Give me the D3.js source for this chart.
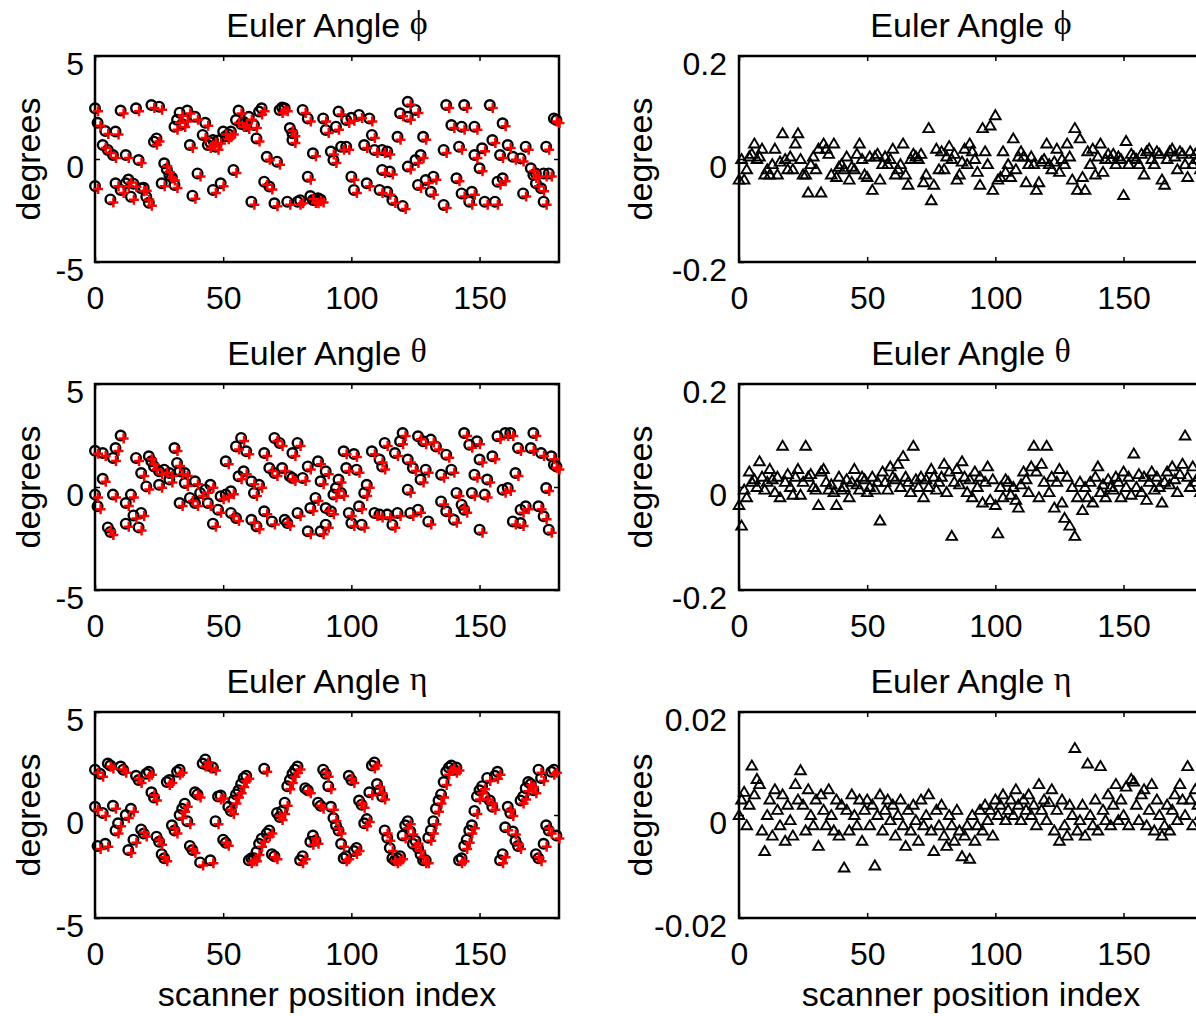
<!DOCTYPE html>
<html>
<head>
<meta charset="utf-8">
<script src="https://cdnjs.cloudflare.com/ajax/libs/d3/7.8.5/d3.min.js"></script>
<style>
  body { margin: 0; background: #fff; }
  svg text { font-family: "Liberation Sans", Arial, sans-serif; fill: #000; }
</style>
</head>
<body>
<div id="chart"></div>
<script>
// x axis ticks (scanner position index) shared by all panels
var xTicks = [0, 50, 100, 150]

// left column: true angle (black o) and estimate (red +), index / degrees pairs
var phiIdx = [0,0,1,3,4,5,6,7,8,8, 10,10,12,12,13,14,15,16,17,18, 19,20,21,22,23,24,25,26,27,28,
  29,30,31,31,32,33,34,35,36,37, 38,39,40,42,43,44,45,46,46,47, 48,49,50,51,52,53,54,55,56,57,
  58,59,60,61,62,63,64,65,66,67, 68,70,71,72,73,74,75,76,77,77, 79,80,81,83,83,84,85,85,86,87,
  88,89,90,92,93,94,95,96,98,98, 100,100,101,103,105,106,107,108,109,111, 112,112,114,114,115,116,118,119,120,122,
  122,122,125,125,126,127,128,129,131,132, 136,136,137,139,141,142,143,143,144,146, 147,148,148,150,151,152,154,155,156,157,
  158,159,159,161,163,166,167,168,170,171, 172,172,174,175,175,176,177,179,180]
var phiDeg = [2.46,-1.31,1.76,0.68,1.36,0.44,-1.96,0.19,1.33,-1.18, 2.35,-1.50,0.19,-1.18,-1.00,-1.83,-1.20,2.46,-0.05,-1.42, -1.40,-1.83,-2.12,2.62,0.84,1.00,2.54,-1.18,-0.21,-0.50,
  -0.78,-0.90,-1.26,1.57,1.90,2.25,1.70,1.97,2.35,0.68, -1.78,2.05,-0.70,1.17,1.76,0.68,0.80,0.92,-1.50,0.60, 0.90,-1.18,1.33,1.10,1.20,1.33,-0.53,1.89,2.35,1.70,
  1.80,1.60,2.05,-2.07,1.65,1.00,2.30,2.46,-1.10,0.11, -1.34,-2.15,-0.13,2.38,2.50,2.46,-2.07,1.50,1.25,0.92, -2.07,-2.00,2.38,1.97,-0.86,-1.80,0.28,-1.99,-2.00,-1.91,
  -1.96,1.97,1.41,0.36,-0.05,1.57,2.30,0.60,1.89,0.60, 2.00,-0.86,-1.50,2.14,0.68,-1.18,1.97,1.17,0.44,-1.50, 0.44,-0.53,0.36,-1.59,-0.61,-1.99,1.08,2.22,-2.28,2.78,
  2.05,-0.37,2.38,-0.05,-1.26,0.19,1.08,-1.02,-1.59,-0.86, 0.44,-2.23,2.62,1.65,-0.94,0.60,1.57,-1.67,2.62,-2.07, -1.59,1.57,0.19,-0.45,0.52,-2.07,2.62,0.92,-2.07,-1.10,
  0.19,1.73,-0.94,0.68,0.11,0.03,-1.67,0.60,-0.45,-0.78, -1.18,-0.70,-1.42,-2.07,-0.70,0.60,-0.70,1.97,1.89]

var thetaIdx = [0,0,1,3,3,5,6,7,7,8, 10,12,12,14,15,16,17,18,18,20, 21,22,23,25,25,27,29,29,31,32,
  33,33,35,35,37,39,39,41,43,44, 45,46,48,49,51,51,53,53,55,55, 56,57,58,59,61,61,62,63,64,66,
  66,68,69,70,70,72,73,74,75,76, 77,77,79,79,81,83,83,84,86,87, 88,88,90,90,90,92,93,94,95,96,
  97,98,99,100,101,102,103,104,105,106, 108,109,111,111,112,113,114,116,117,118, 119,120,122,122,123,124,126,126,127,128,
  129,130,131,133,135,135,137,137,139,140, 141,143,144,144,146,147,148,149,150,150, 152,153,155,157,159,160,161,162,163,164,
  165,166,166,168,170,171,173,174,175,176, 177,178,179,180]
var thetaDeg = [1.76,-0.37,-0.94,0.40,1.65,-1.96,-2.18,-0.37,1.41,1.89, 2.50,-0.78,-1.78,-0.37,-1.38,1.41,-1.96,-1.26,0.68,0.03, 1.49,1.25,1.00,0.11,0.76,0.84,0.68,0.36,1.89,1.17,
  0.76,-0.78,0.19,0.68,-0.53,0.28,-0.78,-0.29,-0.13,-0.78, 0.11,-1.78,-1.10,-0.45,-0.37,1.25,-0.21,-1.26,1.97,-1.50, 0.52,2.38,0.76,1.73,-1.59,0.28,-0.29,-1.91,0.11,-1.18,
  1.65,0.92,-1.67,0.68,2.38,2.14,0.92,-1.59,-1.75,0.52, 0.44,1.65,2.14,-1.26,0.44,1.00,-2.15,-1.02,-0.53,1.25, -2.15,0.28,0.76,-1.83,-1.02,-1.18,-0.37,-0.05,0.36,-0.29,
  1.73,0.92,-1.26,-1.75,1.60,0.84,-0.94,-1.83,-0.29,0.11, 1.73,-1.26,-1.34,1.33,1.00,2.14,-1.34,-1.83,1.65,-1.26, 2.22,2.62,1.33,-0.13,-1.26,0.92,-1.10,2.46,0.36,2.22,
  0.84,-1.67,2.30,1.97,0.60,-0.70,-1.18,1.57,0.84,-1.59, -0.29,-0.86,-1.10,2.62,2.05,-0.29,0.60,2.22,1.33,-2.07, -0.37,0.36,1.49,2.46,-0.13,2.62,-0.05,2.62,-1.67,0.68,
  1.89,-1.10,-1.75,-0.94,1.89,2.62,-0.94,1.65,-1.42,-0.05, -2.07,1.49,1.08,1.00]

var etaIdx = [0,0,1,5,7,8,10,12,13,17, 18,21,23,24,27,29,31,33,33,35, 38,40,41,43,46,47,49,51,53,54,
  56,59,60,62,65,66,68,70,73,76, 79,81,83,86,88,90,93,95,97,99, 101,103,109,111,113,116,119,121,125,129,
  131,134,138,141,142,146,150,154,157,158, 162,164,166,171,173,173,177,179,180,
  2,3,4,6,9,11,14,15,16,19, 20,22,25,26,28,30,32,34,36,37, 39,42,44,45,48,50,52,55,57,58,
  61,63,64,67,69,71,72,74,75,77, 78,80,82,84,85,87,89,91,92,94, 96,98,100,102,104,105,106,107,108,110,
  112,114,115,117,118,120,122,123,124,126, 127,128,130,132,133,135,136,137,139,140, 143,144,145,147,148,149,151,152,153,155,
  156,159,160,161,163,165,167,168,169,170, 172,174,175,176,178]
var etaDeg = [2.2,0.4,-1.5,2.5,0.45,-0.75,2.35,0.0,-1.7,1.7, -0.7,2.1,0.85,-1.05,-2.1,1.7,-0.75,2.2,0.0,0.55, -1.7,1.0,-2.3,2.7,2.3,-0.3,0.95,-1.35,0.2,0.7,
  1.2,1.9,-2.2,-2.1,-1.15,2.25,-0.75,-2.0,0.2,1.7, 2.35,-2.0,1.2,-1.25,0.45,2.0,-0.15,-0.75,-2.1,1.9, -1.75,0.7,2.55,1.2,-0.75,-2.1,-2.0,-0.5,-1.25,-2.2,
  -0.75,0.7,2.3,2.3,-2.2,-0.75,1.2,0.7,2.1,-2.2, 0.1,-1.25,0.7,1.2,-2.1,2.2,-0.75,2.2,-1.0,
  2.0,0.1,-1.4,2.4,-0.4,2.2,0.3,-1.2,1.9,-0.9, 2.0,1.1,-1.3,-1.9,1.6,-0.5,2.1,0.3,-0.3,-1.5, 1.1,2.5,2.4,-2.2,0.9,-1.2,0.4,1.0,1.5,1.8,
  -2.1,-1.8,-1.4,-0.9,-1.9,0.1,-0.1,0.6,1.4,2.0, 2.2,-2.2,1.3,-1.3,-1.0,0.6,2.2,1.4,0.4,-0.5, -1.4,-2.0,1.7,-1.6,0.5,-0.4,-0.2,1.1,2.4,1.5,
  0.9,-1.1,-1.6,-2.2,-2.1,-1.0,-0.3,-0.8,-1.4,-1.6, -1.9,-2.2,-1.1,-0.3,0.3,1.0,1.6,2.1,2.4,2.2, -2.1,-1.5,-1.2,-0.5,0.2,0.9,1.4,0.9,1.8,0.4,
  1.9,-1.9,-0.6,0.4,-0.8,-1.5,0.9,1.3,1.6,1.5, -1.9,1.8,-1.4,-0.5,2.1]

// right column: estimation error (degrees), one value per scanner position 0..180
var phiErr = [-0.04,0.0,-0.04,-0.02,0.005,0.01,0.03,0.0,0.005,0.02,
  -0.03,-0.02,-0.03,-0.01,0.02,-0.03,-0.005,0.05,0.0,-0.02,
  0.005,-0.02,0.03,0.05,0.0,-0.03,-0.03,-0.065,-0.01,0.005,
  -0.02,0.02,-0.065,0.03,0.02,0.01,-0.03,0.03,-0.035,-0.015,
  -0.01,-0.02,0.005,-0.04,-0.015,-0.02,0.01,0.03,0.0,-0.03,
  -0.035,0.005,-0.06,0.005,0.01,-0.04,-0.01,0.005,-0.01,0.0,
  0.02,-0.03,-0.02,-0.01,0.03,-0.03,-0.05,0.0,0.01,0.005,
  0.0,0.01,-0.045,-0.03,0.06,-0.08,-0.05,0.02,-0.02,0.015,
  -0.02,0.005,0.025,0.0,0.01,-0.04,-0.03,-0.005,0.02,-0.01,
  0.03,0.015,0.0,-0.025,-0.05,0.06,0.015,-0.01,0.065,-0.06,
  0.085,-0.04,-0.035,0.015,-0.025,-0.01,-0.035,0.04,-0.02,0.005,
  0.015,0.005,-0.045,-0.01,0.005,-0.01,-0.06,-0.045,-0.005,0.0,
  0.03,-0.01,-0.02,-0.005,0.02,-0.025,0.0,-0.01,0.03,0.005,
  -0.04,0.06,-0.06,0.04,-0.035,-0.06,0.015,-0.01,0.02,-0.03,
  0.005,0.03,-0.025,0.0,0.01,0.0,0.01,-0.01,0.005,0.0,
  -0.07,0.035,-0.01,0.01,0.005,0.0,-0.01,0.01,-0.03,0.015,
  0.02,0.0,-0.01,0.015,0.01,-0.04,-0.05,0.0,0.015,0.02,
  0.005,-0.02,0.015,0.01,-0.01,-0.035,0.015,-0.01,0.01,0.0,-0.02]

var thetaErr = [-0.035,-0.075,-0.005,-0.02,0.03,0.01,0.015,0.0,0.05,0.02,
  -0.005,0.01,0.035,0.015,-0.01,0.02,-0.02,0.08,0.01,0.025,
  0.0,-0.015,0.02,0.035,-0.015,0.01,0.08,0.02,0.025,0.0,
  -0.005,-0.035,0.03,0.035,0.01,-0.005,0.005,-0.01,-0.035,0.02,
  -0.005,0.0,0.015,-0.02,0.01,0.035,0.005,-0.005,0.02,0.015,
  -0.01,0.0,0.02,-0.005,0.01,-0.065,0.03,0.01,-0.005,0.04,
  0.02,0.015,0.045,0.0,0.06,0.02,0.01,-0.01,0.08,0.015,
  0.0,0.02,-0.02,0.015,0.0,0.035,0.02,-0.005,0.01,0.02,
  0.045,-0.01,0.03,-0.095,0.01,0.035,0.005,0.05,0.02,-0.01,
  0.015,-0.02,0.03,0.0,0.02,-0.03,0.01,0.04,-0.025,0.015,
  -0.035,-0.09,0.0,-0.02,0.015,0.01,-0.015,0.0,-0.025,-0.04,
  0.005,0.03,0.015,-0.01,0.04,0.08,0.03,-0.02,0.045,0.01,
  0.08,-0.01,0.02,-0.04,0.01,0.035,-0.03,-0.06,0.02,-0.075,
  0.0,-0.095,-0.02,0.01,-0.045,0.0,-0.02,0.01,-0.03,0.02,
  0.04,-0.01,0.005,-0.02,0.015,0.0,-0.005,0.02,0.01,-0.02,
  0.03,0.0,0.02,-0.015,0.065,0.0,0.025,-0.01,0.02,-0.025,
  0.01,0.03,-0.005,0.02,0.0,-0.03,0.01,0.03,0.005,0.04,
  0.015,-0.01,0.025,0.045,0.1,0.02,0.0,0.04,0.01,0.02,-0.01]

var etaErr = [0.0,0.003,0.0045,-0.002,0.002,0.0096,0.004,0.007,0.006,-0.003,
  -0.007,0.0,0.003,-0.004,0.005,0.001,-0.002,0.004,-0.005,0.002,
  -0.001,-0.004,0.006,0.003,0.0087,0.002,-0.003,0.005,0.0,-0.002,
  0.003,-0.006,0.004,0.001,-0.002,0.005,0.0,-0.003,0.003,-0.004,
  0.002,-0.0102,0.001,-0.003,0.004,0.0,-0.002,0.003,-0.005,0.001,
  0.003,-0.002,0.002,-0.0098,0.0,0.004,-0.003,0.001,0.003,-0.001,
  0.002,-0.004,0.0,0.003,-0.002,-0.006,0.001,-0.003,0.002,-0.001,
  -0.005,0.003,-0.002,0.0,0.004,-0.003,-0.007,0.001,-0.002,0.002,
  -0.004,-0.006,0.0,-0.002,-0.005,0.001,-0.003,-0.008,-0.004,-0.002,
  -0.0085,0.0,-0.005,-0.002,0.001,-0.003,0.002,-0.001,0.001,-0.004,
  0.003,0.0,0.002,0.004,-0.001,0.001,0.003,0.0,0.005,0.002,
  -0.001,0.003,0.001,0.004,0.0,0.002,-0.002,0.006,0.001,0.003,
  -0.001,0.0025,0.005,-0.003,0.001,-0.005,0.003,-0.002,-0.004,0.002,
  0.0,0.013,-0.003,-0.001,0.002,-0.004,0.01,0.0,-0.002,0.003,
  -0.003,0.0095,0.001,-0.001,0.004,-0.002,0.002,0.006,-0.001,0.003,
  0.0,0.0055,-0.002,0.007,0.0065,0.002,-0.001,0.004,0.005,-0.002,
  0.001,0.006,-0.003,0.003,0.0,-0.004,-0.002,0.002,-0.003,0.001,
  0.004,-0.001,0.006,0.003,0.0,0.0095,0.003,-0.002,0.005,0.002,0.0]

// layout
var widthSvg = 1196
var heightSvg = 1016
var colLeft = [95, 739]
var rowTop = [56, 384, 712]
var plotW = 464
var plotH = 206
var tickFont = 32
var labelFont = 34

var svg = d3.select("#chart")
  .append("svg")
  .attr("width", widthSvg)
  .attr("height", heightSvg)

svg.append("rect").attr("width", widthSvg).attr("height", heightSvg).attr("fill", "#fff")

var errIdx = d3.range(phiErr.length)

var panels = [
  {col: 0, row: 0, greek: "\u03D5", idx: phiIdx, val: phiDeg, kind: "angle", yDomain: [-5, 5], yTicks: [-5, 0, 5]},
  {col: 0, row: 1, greek: "\u03B8", idx: thetaIdx, val: thetaDeg, kind: "angle", yDomain: [-5, 5], yTicks: [-5, 0, 5]},
  {col: 0, row: 2, greek: "\u03B7", idx: etaIdx, val: etaDeg, kind: "angle", yDomain: [-5, 5], yTicks: [-5, 0, 5]},
  {col: 1, row: 0, greek: "\u03D5", idx: errIdx, val: phiErr, kind: "err", yDomain: [-0.2, 0.2], yTicks: [-0.2, 0, 0.2]},
  {col: 1, row: 1, greek: "\u03B8", idx: errIdx, val: thetaErr, kind: "err", yDomain: [-0.2, 0.2], yTicks: [-0.2, 0, 0.2]},
  {col: 1, row: 2, greek: "\u03B7", idx: errIdx, val: etaErr, kind: "err", yDomain: [-0.02, 0.02], yTicks: [-0.02, 0, 0.02]}
]

panels.forEach(function(p) {
  var g = svg.append("g")
    .attr("transform", "translate(" + colLeft[p.col] + "," + rowTop[p.row] + ")")

  var x = d3.scaleLinear().domain([0, 181]).range([0, plotW])
  var y = d3.scaleLinear().domain(p.yDomain).range([plotH, 0])

  // inward ticks on all four sides, labels only bottom and left
  var bottom = g.append("g").attr("transform", "translate(0," + plotH + ")")
    .call(d3.axisBottom(x).tickValues(xTicks).tickSizeInner(-5).tickSizeOuter(0).tickPadding(24).tickFormat(String))
  var top = g.append("g")
    .call(d3.axisTop(x).tickValues(xTicks).tickSizeInner(-5).tickSizeOuter(0).tickFormat(""))
  var left = g.append("g")
    .call(d3.axisLeft(y).tickValues(p.yTicks).tickSizeInner(-5).tickSizeOuter(0).tickPadding(p.col ? 12 : 11).tickFormat(String))
  var right = g.append("g").attr("transform", "translate(" + plotW + ",0)")
    .call(d3.axisRight(y).tickValues(p.yTicks).tickSizeInner(-5).tickSizeOuter(0).tickFormat(""))

  ;[bottom, top, left, right].forEach(function(a) {
    a.select(".domain").remove()
    a.selectAll("line").attr("stroke", "#000").attr("stroke-width", 1.5)
    a.selectAll("text").attr("font-size", tickFont).attr("font-family", null).attr("fill", "#000")
  })
  left.selectAll("text").attr("dy", "18px")

  g.append("rect")
    .attr("width", plotW).attr("height", plotH)
    .attr("fill", "none").attr("stroke", "#000").attr("stroke-width", 2.5)

  var pts = d3.range(p.idx.length)

  if (p.kind === "angle") {
    g.selectAll("circle.truth")
      .data(pts).enter().append("circle")
      .attr("class", "truth")
      .attr("cx", function(i) { return x(p.idx[i]) })
      .attr("cy", function(i) { return y(p.val[i]) })
      .attr("r", 4.8)
      .attr("fill", "none").attr("stroke", "#000").attr("stroke-width", 2.4)

    // estimate sits on top of the true value at this scale; marker drawn slightly offset like the original
    g.selectAll("path.est")
      .data(pts).enter().append("path")
      .attr("class", "est")
      .attr("d", "M-5,0H5M0,-5V5")
      .attr("transform", function(i) { return "translate(" + (x(p.idx[i]) + 3) + "," + (y(p.val[i]) + 3) + ")" })
      .attr("stroke", "#ff0000").attr("stroke-width", 2.5).attr("fill", "none")
  } else {
    g.selectAll("path.err")
      .data(pts).enter().append("path")
      .attr("class", "err")
      .attr("d", "M0,-5L5.3,4L-5.3,4Z")
      .attr("transform", function(i) { return "translate(" + x(p.idx[i]) + "," + y(p.val[i]) + ")" })
      .attr("stroke", "#000").attr("stroke-width", 1.9).attr("fill", "none")
  }

  // title with greek letter
  var title = g.append("text")
    .attr("x", plotW / 2).attr("y", -19)
    .attr("text-anchor", "middle")
    .attr("font-size", labelFont)
  title.append("tspan").text("Euler Angle ")
  title.append("tspan").text(p.greek)
    .attr("font-family", "'Liberation Serif', 'DejaVu Serif', serif")
    .attr("dy", -3)

  g.append("text")
    .attr("transform", "translate(" + (p.col ? -87 : -55) + "," + (plotH / 2) + ") rotate(-90)")
    .attr("text-anchor", "middle")
    .attr("font-size", labelFont)
    .text("degrees")

  if (p.row === 2) {
    g.append("text")
      .attr("x", plotW / 2).attr("y", plotH + 88)
      .attr("text-anchor", "middle")
      .attr("font-size", labelFont)
      .text("scanner position index")
  }
})
</script>
</body>
</html>
